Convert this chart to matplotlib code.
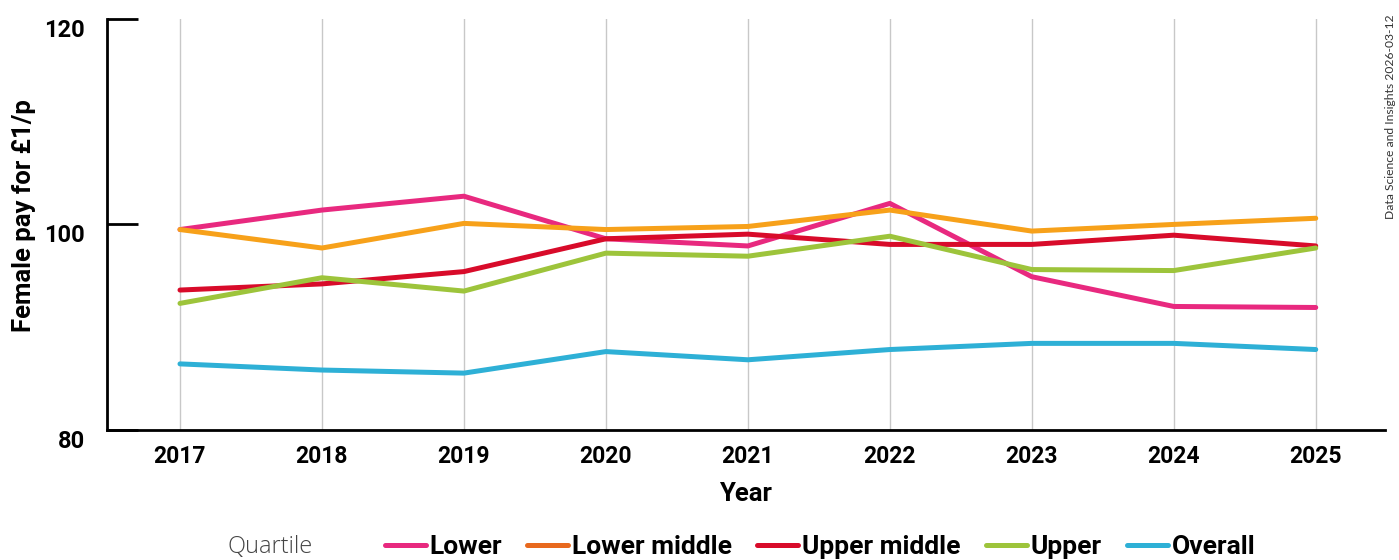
import matplotlib.pyplot as plt
from matplotlib.lines import Line2D

years = [2017, 2018, 2019, 2020, 2021, 2022, 2023, 2024, 2025]

lower = [99.5, 101.4, 102.75, 98.6, 97.9, 102.05, 94.9, 92.0, 91.9]
lower_middle = [99.5, 97.7, 100.1, 99.5, 99.8, 101.4, 99.35, 100.0, 100.6]
upper_middle = [93.6, 94.2, 95.4, 98.6, 99.05, 98.05, 98.05, 98.95, 97.9]
upper = [92.3, 94.8, 93.5, 97.2, 96.9, 98.85, 95.6, 95.5, 97.7]
overall = [86.4, 85.8, 85.5, 87.6, 86.8, 87.8, 88.4, 88.4, 87.8]

series_names = ["Lower", "Lower middle", "Upper middle", "Upper", "Overall"]
line_colors = ["#e8297f", "#f7a11a", "#d80b2a", "#9dc43b", "#2eb0d6"]
legend_colors = ["#e8297f", "#e8691e", "#d80b2a", "#9dc43b", "#2eb0d6"]

yticks = [80, 100, 120]

plt.rcParams['font.family'] = ['Roboto', 'DejaVu Sans']

fig = plt.figure(figsize=(13.99, 5.6), dpi=100)
ax = fig.add_axes([0.0765, 0.233, 0.9135, 0.7325])

for vals, c in zip([lower, lower_middle, upper_middle, upper, overall], line_colors):
    ax.plot(years, vals, color=c, lw=3.6, solid_capstyle='round', zorder=3)

ax.set_xlim(2016.486, 2025.488)
ax.set_ylim(80, 120)
ax.set_xticks(years)
ax.set_yticks(yticks)
ax.grid(axis='x', color='#c8c8c8', lw=1)
ax.set_axisbelow(True)

for s in ['top', 'right']:
    ax.spines[s].set_visible(False)
for s in ['left', 'bottom']:
    ax.spines[s].set_linewidth(2.0)

ax.tick_params(axis='y', direction='in', length=22, width=2, pad=16,
               labelsize=17)
ax.tick_params(axis='x', length=0, pad=11, labelsize=16.5)
for lab in ax.get_yticklabels():
    lab.set_fontweight('bold')
    lab.set_va('top')
for lab in ax.get_xticklabels():
    lab.set_fontweight('bold')

fig.text(24 / 1399, 1 - 216 / 560, "Female pay for £1/p", rotation=90,
         ha='center', va='center', fontsize=18.5, fontweight='bold')
fig.text(745 / 1399, 1 - 494 / 560, "Year", ha='center', va='center',
         fontsize=18.5, fontweight='bold')

fig.text(228 / 1399, 1 - 547 / 560, "Quartile", ha='left', va='center',
         fontsize=17, color='#444444', family=['Open Sans', 'DejaVu Sans'],
         fontweight='light')

handles = [Line2D([0], [0], color=c, lw=3.6, solid_capstyle='round')
           for c in legend_colors]
fig.legend(handles, series_names, loc='center', ncol=5,
           bbox_to_anchor=(820 / 1399, 1 - 547 / 560), frameon=False,
           prop={'weight': 'bold', 'size': 19}, handlelength=1.55,
           handletextpad=0.15, columnspacing=0.95, borderpad=0)

fig.text(1390 / 1399, 1 - 117 / 560, "Data Science and Insights 2026-03-12",
         rotation=90, ha='center', va='center', fontsize=8.7,
         family=['Lato', 'DejaVu Sans'], color='#333333')

fig.savefig("out.png", dpi=100)
